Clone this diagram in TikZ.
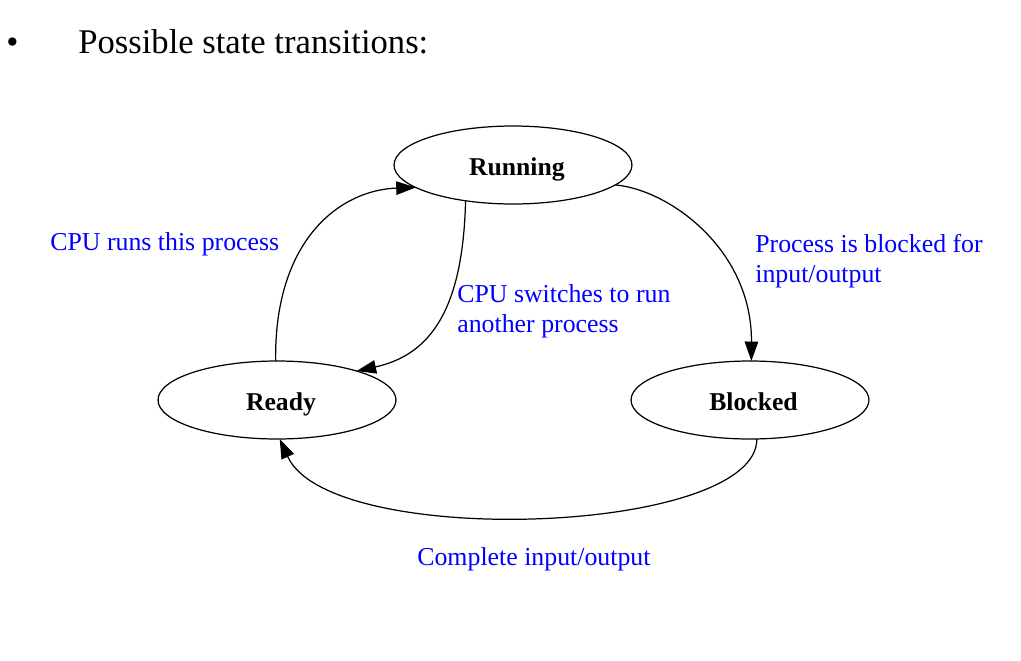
\documentclass[tikz,border=0pt]{standalone}
\usepackage{fontspec}
\setmainfont{Liberation Serif}
\usetikzlibrary{shapes.geometric,arrows.meta}
\definecolor{lblblue}{RGB}{0,0,255}
\begin{document}
\begin{tikzpicture}[x=0.02cm,y=-0.02cm,
  state/.style={ellipse,draw,line width=0.7pt,minimum width=4.76cm,minimum height=1.56cm,
    inner sep=0pt,outer sep=0pt,text height=11.4pt,text depth=0pt,
    font=\fontsize{14.6}{17}\selectfont\bfseries},
  lbl/.style={text=lblblue,font=\fontsize{14.7}{17}\selectfont,align=left,inner sep=0pt,anchor=base west},
  trans/.style={line width=0.7pt,-{Triangle[length=0.39cm,width=0.27cm]}}]
\useasboundingbox (0,0) rectangle (1021,660);
% title
\node[inner sep=0pt,anchor=base west,font=\fontsize{19.7}{23}\selectfont] (bullet) at (6,53) {•};
\node[inner sep=0pt,anchor=base west,font=\fontsize{19.7}{23}\selectfont] (title) at (78,53) {Possible state transitions:};
% states
\node[state] (running) at (513,165) {\hspace*{4.5pt}Running};
\node[state] (ready) at (277,400) {\hspace*{4.5pt}Ready};
\node[state] (blocked) at (750,400) {\hspace*{4pt}Blocked};
% transitions
\draw[trans] (ready.92) .. controls (274,240) and (340,190) .. (running.193);
\draw[trans] (running.217) .. controls (463,310) and (430,355) .. (ready.20);
\draw[trans] (running.349.6) .. controls (670,190) and (752,250) .. (blocked.88);
\draw[trans] (blocked.280) .. controls (757,535) and (330,550) .. (ready.274);
% labels
\node[lbl] (l1) at (50,250) {CPU runs this process};
\node[lbl] (l2) at (457,332) {CPU switches to run\\another process};
\node[lbl] (l3) at (755,282) {Process is blocked for\\input/output};
\node[lbl] (l4) at (417,565) {Complete input/output};
\end{tikzpicture}
\end{document}
